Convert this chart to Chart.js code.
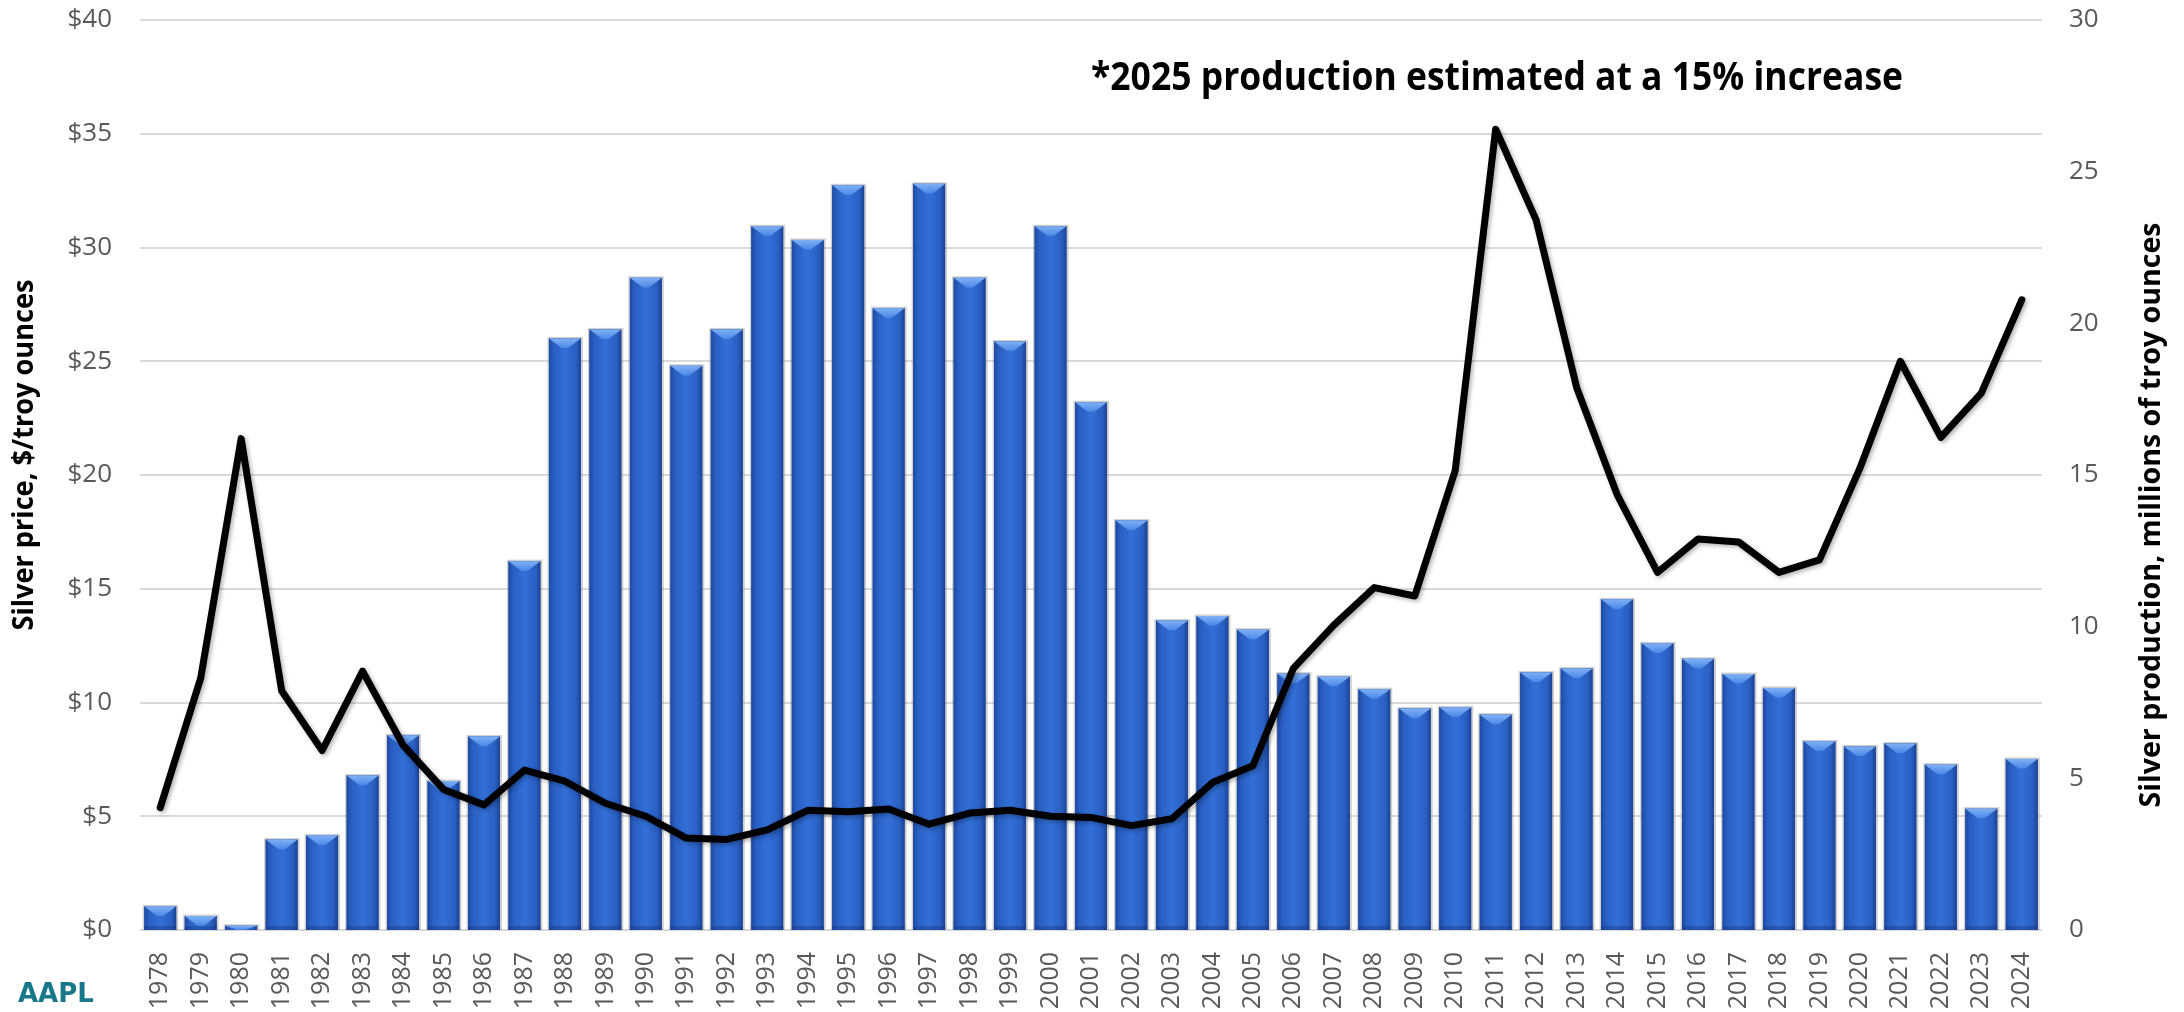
<!DOCTYPE html>
<html>
<head>
<meta charset="utf-8">
<script src="https://cdn.jsdelivr.net/npm/chart.js@4.4.1/dist/chart.umd.min.js"></script>
<style>
    body { margin: 0; background: #fff; }
    #wrap { position: relative; width: 2184px; height: 1012px; }
    #logo {
        position: absolute; left: 18px; top: 980px;
        font: bold 26px "DejaVu Sans", sans-serif; line-height: 1;
        color: #17788a;
    }
</style>
</head>
<body>
<div id="wrap">
    <canvas id="silverChart"></canvas>
    <div id="logo">AAPL</div>
</div>
<script>
const years = [
    '1978', '1979', '1980', '1981', '1982', '1983', '1984', '1985', '1986', '1987',
    '1988', '1989', '1990', '1991', '1992', '1993', '1994', '1995', '1996', '1997',
    '1998', '1999', '2000', '2001', '2002', '2003', '2004', '2005', '2006', '2007',
    '2008', '2009', '2010', '2011', '2012', '2013', '2014', '2015', '2016', '2017',
    '2018', '2019', '2020', '2021', '2022', '2023', '2024'
];

// Silver production, millions of troy ounces (right axis, bars)
const production = [
    0.78, 0.46, 0.14, 2.98, 3.12, 5.09, 6.42, 4.91, 6.38, 12.16,
    19.5, 19.8, 21.5, 18.6, 19.8, 23.2, 22.75, 24.55, 20.5, 24.6,
    21.5, 19.4, 23.2, 17.4, 13.5, 10.2, 10.35, 9.9, 8.45, 8.35,
    7.94, 7.3, 7.34, 7.1, 8.49, 8.62, 10.9, 9.45, 8.94, 8.44,
    7.98, 6.22, 6.05, 6.15, 5.45, 4.0, 5.64
];

// Silver price, $/troy ounce (left axis, line)
const price = [
    5.38, 11.07, 21.6, 10.52, 7.89, 11.38, 8.13, 6.18, 5.5, 7.03,
    6.54, 5.57, 5.0, 4.04, 3.98, 4.4, 5.26, 5.2, 5.32, 4.65,
    5.14, 5.26, 5.0, 4.95, 4.59, 4.89, 6.48, 7.22, 11.5, 13.4,
    15.05, 14.68, 20.2, 35.2, 31.2, 23.85, 19.14, 15.72, 17.19, 17.06,
    15.72, 16.27, 20.3, 25.0, 21.65, 23.6, 27.7
];

const leftTitle = 'Silver price, $/troy ounces';
const rightTitle = 'Silver production, millions of troy ounces';
const note = '*2025 production estimated at a 15% increase';

const tickColor = '#595959';
const tickFont = { family: '"Open Sans", sans-serif', size: 26 };

// Fit text to a given width by squeezing it horizontally
function drawFitted(ctx, text, x, y, rotation, font, targetWidth) {
    ctx.save();
    ctx.translate(x, y);
    ctx.rotate(rotation);
    ctx.font = font;
    const w = ctx.measureText(text).width;
    ctx.scale(targetWidth / w, 1);
    ctx.textAlign = 'center';
    ctx.textBaseline = 'middle';
    ctx.fillStyle = '#000';
    ctx.fillText(text, 0, 0);
    ctx.restore();
}

// Bevelled look on the bars, drawn over the bar elements
const barStyle = {
    id: 'barStyle',
    afterDatasetDraw(chart, args) {
        if (args.meta.type !== 'bar') return;
        const ctx = chart.ctx;
        args.meta.data.forEach(bar => {
            const { x, y, base, width } = bar.getProps(['x', 'y', 'base', 'width'], true);
            const l = x - width / 2;
            const r = x + width / 2;
            const h = base - y;

            ctx.save();
            // soft shadow
            ctx.fillStyle = 'rgba(120,120,120,0.35)';
            ctx.fillRect(l - 1.5, y - 1.5, width + 3.5, h + 1.5);

            const g = ctx.createLinearGradient(l, 0, r, 0);
            g.addColorStop(0, '#1d49a3');
            g.addColorStop(0.15, '#2a5fc2');
            g.addColorStop(0.5, '#3170d8');
            g.addColorStop(0.85, '#2a5fc2');
            g.addColorStop(1, '#1b4294');
            ctx.fillStyle = g;
            ctx.fillRect(l, y, width, h);

            // top bevel
            const d = Math.min(width * 0.3, h);
            const tg = ctx.createLinearGradient(0, y, 0, y + d);
            tg.addColorStop(0, '#7fb0f4');
            tg.addColorStop(1, '#4a88e6');
            ctx.beginPath();
            ctx.moveTo(l, y);
            ctx.lineTo(r, y);
            ctx.lineTo(x + width * 0.1, y + d);
            ctx.lineTo(x - width * 0.1, y + d);
            ctx.closePath();
            ctx.fillStyle = tg;
            ctx.fill();

            // bottom darker strip
            if (h > 8) {
                ctx.fillStyle = 'rgba(20,50,120,0.35)';
                ctx.fillRect(l, base - 4, width, 4);
            }
            ctx.restore();
        });
    }
};

// Soft shadow under the price line
const lineShadow = {
    id: 'lineShadow',
    beforeDatasetDraw(chart, args) {
        if (args.meta.type !== 'line') return;
        const ctx = chart.ctx;
        ctx.save();
        ctx.shadowColor = 'rgba(0,0,0,0.3)';
        ctx.shadowBlur = 4;
        ctx.shadowOffsetX = 2;
        ctx.shadowOffsetY = 2;
    },
    afterDatasetDraw(chart, args) {
        if (args.meta.type !== 'line') return;
        chart.ctx.restore();
    }
};

// Axis titles and the note
const labels = {
    id: 'labels',
    afterDraw(chart) {
        const ctx = chart.ctx;
        drawFitted(ctx, leftTitle, 25, 455, -Math.PI / 2, 'bold 28px "Open Sans"', 351);
        drawFitted(ctx, rightTitle, 2152, 515, -Math.PI / 2, 'bold 28px "Open Sans"', 585);
        drawFitted(ctx, note, 1497, 79, 0, 'bold 40px "Open Sans"', 812);
    }
};

function noVerticalPadding(scale) {
    scale.paddingTop = 0;
    scale.paddingBottom = 0;
}

const ctx = document.getElementById('silverChart').getContext('2d');
const chart = new Chart(ctx, {
    data: {
        labels: years,
        datasets: [
            {
                type: 'line',
                label: 'Silver price',
                data: price,
                yAxisID: 'y',
                borderColor: '#000',
                borderWidth: 7,
                borderJoinStyle: 'round',
                borderCapStyle: 'round',
                pointRadius: 0,
                tension: 0,
                order: 0
            },
            {
                type: 'bar',
                label: 'Silver production',
                data: production,
                yAxisID: 'y1',
                backgroundColor: '#2f69cc',
                borderWidth: 0,
                barPercentage: 0.79,
                categoryPercentage: 1,
                order: 1
            }
        ]
    },
    options: {
        responsive: true,
        maintainAspectRatio: false,
        animation: false,
        layout: { padding: { top: 20 } },
        plugins: {
            legend: { display: false },
            tooltip: { enabled: false }
        },
        scales: {
            x: {
                grid: { display: false },
                border: { display: false },
                ticks: {
                    color: tickColor,
                    font: { family: '"Open Sans", sans-serif', size: 25 },
                    minRotation: 90,
                    maxRotation: 90,
                    autoSkip: false,
                    padding: 14
                },
                afterFit: scale => { scale.height = 82; }
            },
            y: {
                position: 'left',
                min: 0,
                max: 40,
                ticks: {
                    stepSize: 5,
                    color: tickColor,
                    font: tickFont,
                    padding: 28,
                    callback: v => '$' + v
                },
                grid: { color: '#d9d9d9', lineWidth: 2, drawTicks: false },
                border: { display: false },
                afterFit: scale => { scale.width = 140; noVerticalPadding(scale); }
            },
            y1: {
                position: 'right',
                min: 0,
                max: 30,
                ticks: {
                    stepSize: 5,
                    color: tickColor,
                    font: tickFont,
                    padding: 27
                },
                grid: { display: false, drawTicks: false },
                border: { display: false },
                afterFit: scale => { scale.width = 142; noVerticalPadding(scale); }
            }
        }
    },
    plugins: [barStyle, lineShadow, labels]
});
</script>
</body>
</html>
